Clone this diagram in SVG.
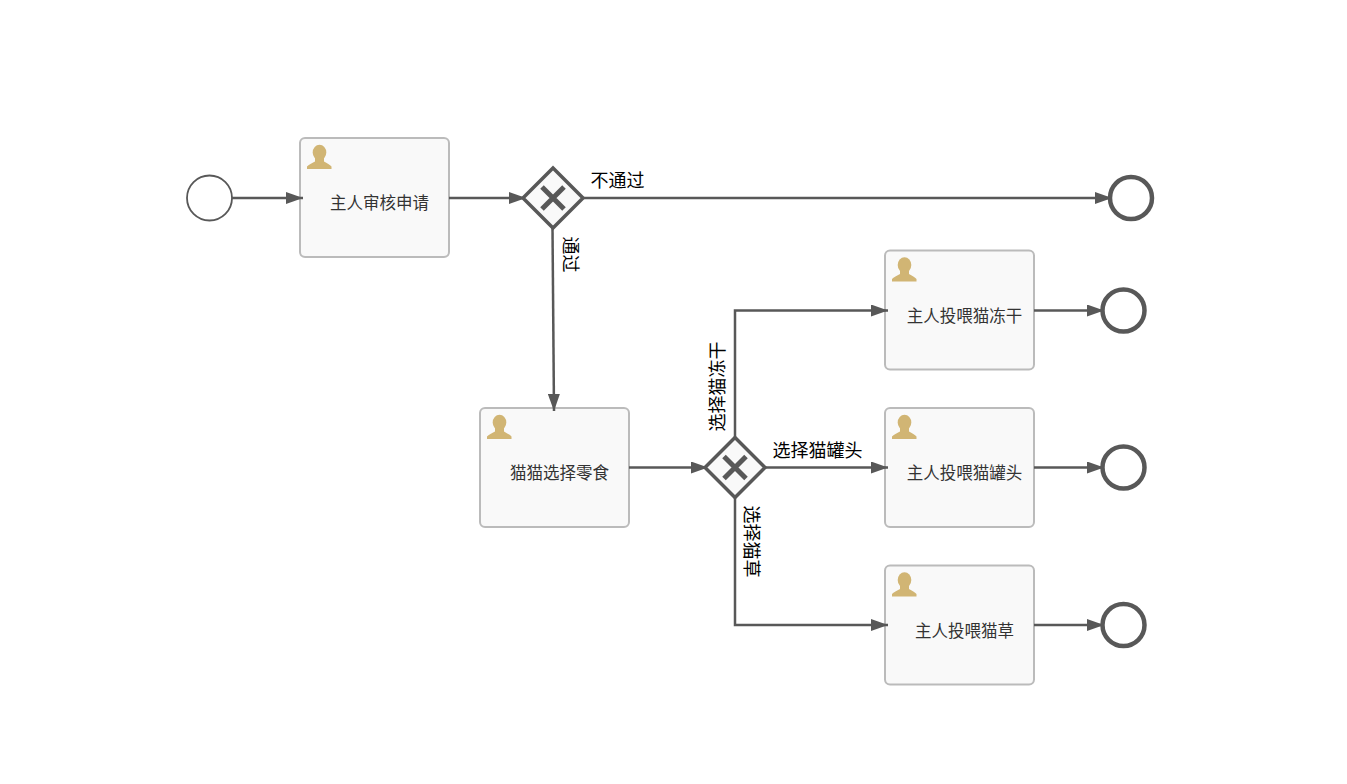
<svg xmlns="http://www.w3.org/2000/svg" width="1347" height="784" viewBox="0 0 1347 784">
<style>
text{font-family:"Noto Sans CJK SC","Liberation Sans",sans-serif}
.task{fill:#f9f9f9;stroke:#bbb;stroke-width:2}
.tl{font-size:16.500px;fill:#333;text-anchor:middle}
.lb{font-size:18px;fill:#000}
.c{fill:none;stroke:#585858;stroke-width:2.500}
.gw{fill:#f9f9f9;stroke:#585858;stroke-width:3.500}
.x{stroke:#585858;stroke-width:5;fill:none}
.end{fill:#fff;stroke:#585858;stroke-width:4.500}
.ic{fill:#d1b574}
</style>
<defs>
<marker id="a" markerUnits="userSpaceOnUse" markerWidth="18" markerHeight="12" refX="17" refY="6" orient="auto"><path d="M0 0L17 6L0 12Z" fill="#585858"/></marker>
<g id="person"><ellipse cx="12.500" cy="7.500" rx="6.800" ry="7.800" class="ic"/><path class="ic" d="M0 24L0 21.500C1.500 19.500 5 18.500 8 16.500L8 11L17 11L17 16.500C20 18.500 23 19.500 24.500 21.500L24.500 24Z"/></g>
<path id="cross" class="x" d="M-11 -11L11 11M-11 11L11 -11"/>
</defs>
<rect width="1347" height="784" fill="#fff"/>
<g id="task1"><rect class="task" x="300" y="138" width="149" height="119" rx="5"/><use href="#person" x="307" y="145"/><text class="tl" x="379.500" y="209">主人审核申请</text></g>
<g id="task2"><rect class="task" x="480" y="408" width="149" height="119" rx="5"/><use href="#person" x="487" y="415"/><text class="tl" x="559.500" y="479">猫猫选择零食</text></g>
<g id="task3"><rect class="task" x="885" y="250.500" width="149" height="119" rx="5"/><use href="#person" x="892" y="257.500"/><text class="tl" x="964.500" y="322">主人投喂猫冻干</text></g>
<g id="task4"><rect class="task" x="885" y="408" width="149" height="119" rx="5"/><use href="#person" x="892" y="415"/><text class="tl" x="964.500" y="479">主人投喂猫罐头</text></g>
<g id="task5"><rect class="task" x="885" y="565.500" width="149" height="119" rx="5"/><use href="#person" x="892" y="572.500"/><text class="tl" x="964.500" y="637">主人投喂猫草</text></g>
<g id="connectors">
<path class="c" marker-end="url(#a)" d="M232 198H303"/>
<path class="c" marker-end="url(#a)" d="M449 198H526"/>
<path class="c" marker-end="url(#a)" d="M583 198H1112"/>
<path class="c" marker-end="url(#a)" d="M552.500 228L554 411"/>
<path class="c" marker-end="url(#a)" d="M629 467.500H708"/>
<path class="c" marker-end="url(#a)" d="M735 437V310.500H888"/>
<path class="c" marker-end="url(#a)" d="M765 467.500H888"/>
<path class="c" marker-end="url(#a)" d="M735 497V625H888"/>
<path class="c" marker-end="url(#a)" d="M1034 310.500H1104"/>
<path class="c" marker-end="url(#a)" d="M1034 467.500H1104"/>
<path class="c" marker-end="url(#a)" d="M1034 625H1104"/>
</g>
<g id="start"><circle cx="209.500" cy="198" r="22.500" fill="#fff" stroke="#585858" stroke-width="1.800"/></g>
<g id="gw1"><path class="gw" d="M553 168L583 198L553 228L523 198Z"/><use href="#cross" x="553" y="198"/></g>
<g id="gw2"><path class="gw" d="M735 437.500L765 467.500L735 497.500L705 467.500Z"/><use href="#cross" x="735" y="467.500"/></g>
<g id="end1"><circle class="end" cx="1131" cy="198" r="21"/></g>
<g id="end2"><circle class="end" cx="1123.500" cy="310.500" r="21"/></g>
<g id="end3"><circle class="end" cx="1123.500" cy="467.500" r="21"/></g>
<g id="end4"><circle class="end" cx="1123.500" cy="625" r="21"/></g>
<g id="labels">
<text class="lb" x="590.500" y="187">不通过</text>
<text class="lb" x="772.500" y="457">选择猫罐头</text>
<text class="lb" transform="translate(563.500 236.500) rotate(90)">通过</text>
<text class="lb" transform="translate(745 505.500) rotate(90)">选择猫草</text>
<text class="lb" transform="translate(724 431.500) rotate(-90)">选择猫冻干</text>
</g>
</svg>
